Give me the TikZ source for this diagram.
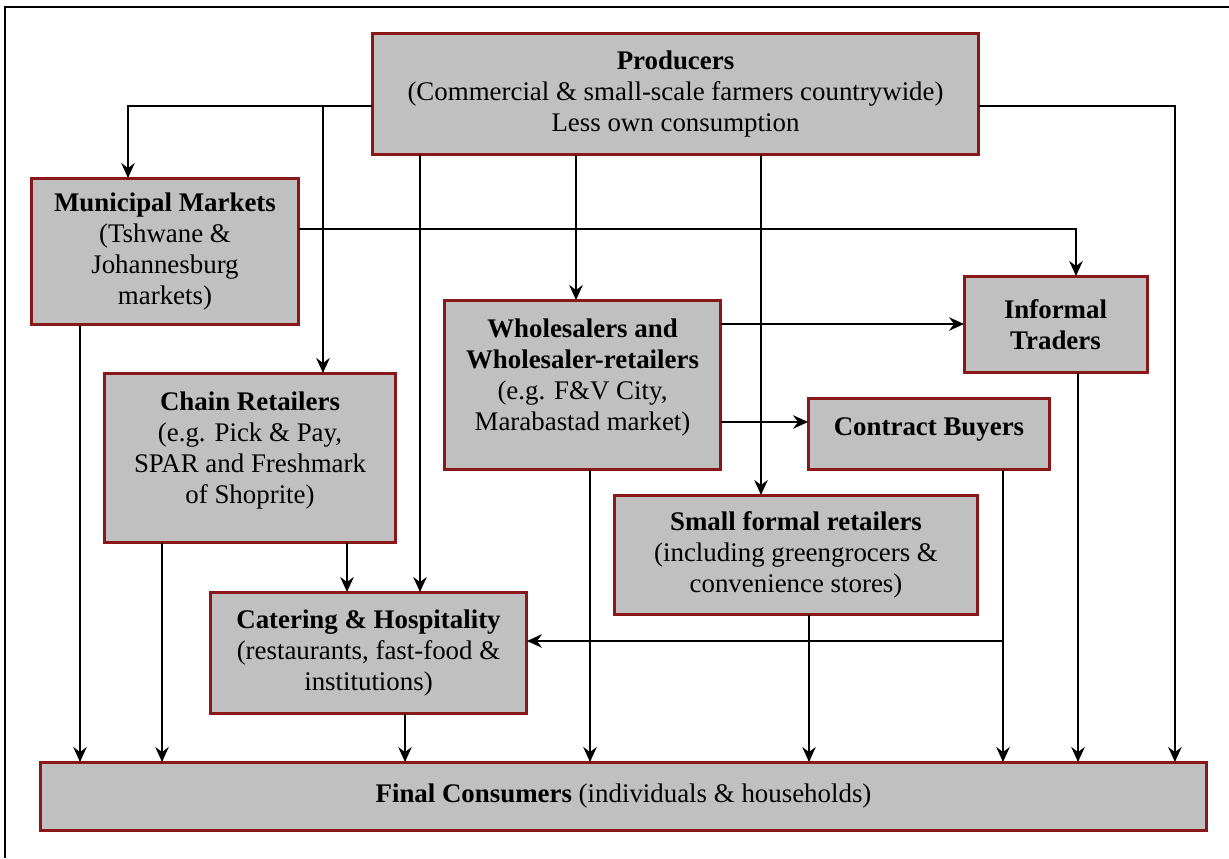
\documentclass[tikz,border=0pt]{standalone}
\usepackage{fontspec}
\setmainfont{Liberation Serif}
\usetikzlibrary{arrows.meta}

\definecolor{boxred}{HTML}{8A1818}
\definecolor{boxgray}{HTML}{C0C0C0}

\tikzset{
  box/.style={draw=boxred, fill=boxgray, line width=0.06cm, align=center,
    inner sep=0pt, outer sep=0pt, font=\fontsize{15.3}{17.6}\selectfont},
  flow/.style={line width=0.045cm, -{Stealth[length=0.3cm,width=0.27cm,inset=0.1cm]}},
}

\begin{document}
\begin{tikzpicture}[x=0.02cm, y=-0.02cm]

  \useasboundingbox (0,0) rectangle (1229,858);
  \draw[line width=0.055cm] (5,858) |- (1229,7);

  % Define nodes

  % top
  \node[box, minimum width=12.14cm, minimum height=2.44cm] (prod) at (675.5,94)
    {\textbf{Producers}\\(Commercial \& small-scale farmers countrywide)\\Less own consumption}; %
  \node[box, minimum width=5.36cm, minimum height=2.94cm] (muni) at (165,251.5)
    {\textbf{Municipal Markets}\\(Tshwane \&\\Johannesburg\\markets)}; %

  % middle row
  \node[box, minimum width=3.66cm, minimum height=1.94cm] (inf) at (1055.5,324.5)
    {\textbf{Informal}\\\textbf{Traders}}; %
  \node[box, minimum width=5.54cm, minimum height=3.40cm] (ws) at (582.5,385)
    {\textbf{Wholesalers and}\\\textbf{Wholesaler-retailers}\\(e.g. F\&V City,\\Marabastad market)\\[-0.2cm]}; %
  \node[box, minimum width=5.84cm, minimum height=3.40cm] (chain) at (250,458)
    {\textbf{Chain Retailers}\\(e.g. Pick \& Pay,\\SPAR and Freshmark\\of Shoprite)\\[-0.2cm]}; %
  \node[box, minimum width=4.84cm, minimum height=1.44cm] (cb) at (929,434)
    {\textbf{Contract Buyers}\\[-0.33cm]}; %

  % lower row
  \node[box, minimum width=7.28cm, minimum height=2.40cm] (sfr) at (796,555)
    {\textbf{Small formal retailers}\\(including greengrocers \&\\convenience stores)}; %
  \node[box, minimum width=6.34cm, minimum height=2.44cm] (cat) at (368.5,653)
    {\textbf{Catering \& Hospitality}\\(restaurants, fast-food \&\\institutions)}; %

  % consumers
  \node[box, minimum width=23.34cm, minimum height=1.36cm] (fin) at (623.5,796)
    {\textbf{Final Consumers} (individuals \& households)}; %

  % Ports
  \coordinate (pl) at ([yshift=-0.24cm]prod.west); %
  \coordinate (pr) at ([yshift=-0.24cm]prod.east); %
  \coordinate (chain-in) at ([xshift=1.46cm]chain.north); %
  \coordinate (cat-in) at ([xshift=1.03cm]cat.north); %
  \coordinate (ws-in) at ([xshift=-0.13cm]ws.north); %
  \coordinate (sfr-in) at ([xshift=-0.70cm]sfr.north); %
  \coordinate (cat-side) at ([yshift=0.24cm]cat.east); %
  \coordinate (muni-out) at ([xshift=-1.70cm]muni.south); %
  \coordinate (chain-out) at ([xshift=-1.76cm]chain.south); %
  \coordinate (chain-cat) at ([xshift=1.94cm]chain.south); %
  \coordinate (cat-out) at ([xshift=0.73cm]cat.south); %
  \coordinate (ws-out) at ([xshift=0.15cm]ws.south); %
  \coordinate (ws-inf) at ([yshift=1.22cm]ws.east); %
  \coordinate (ws-cb) at ([yshift=-0.74cm]ws.east); %
  \coordinate (cb-out) at ([xshift=1.48cm]cb.south); %
  \coordinate (sfr-out) at ([xshift=0.26cm]sfr.south); %
  \coordinate (inf-out) at ([xshift=0.45cm]inf.south); %

  % From producers
  \draw[flow] (pl) -| ([xshift=-0.74cm]muni.north); %
  \draw[flow] (pl -| chain-in) -- (chain-in); %
  \draw[flow] (prod.south -| cat-in) -- (cat-in); %
  \draw[flow] (prod.south -| ws-in) -- (ws-in); %
  \draw[flow] (prod.south -| sfr-in) -- (sfr-in); %
  \draw[flow] (pr) -| ([xshift=11.03cm]fin.north); %

  % Municipal markets
  \draw[flow] ([yshift=0.45cm]muni.east) -| ([xshift=0.41cm]inf.north); %
  \draw[flow] (muni-out) -- (muni-out |- fin.north); %

  % Wholesalers
  \draw[flow] (ws-inf) -- (ws-inf -| inf.west); %
  \draw[flow] (ws-cb) -- (ws-cb -| cb.west); %
  \draw[flow] (ws-out) -- (ws-out |- fin.north); %

  % Retailers and buyers
  \draw[flow] (chain-out) -- (chain-out |- fin.north); %
  \draw[flow] (chain-cat) -- (chain-cat |- cat.north); %
  \draw[flow] (cat-out) -- (cat-out |- fin.north); %
  \draw[flow] (cb-out) -- (cb-out |- fin.north); %
  \draw[flow] (cb-out |- cat-side) -- (cat-side); %
  \draw[flow] (sfr-out) -- (sfr-out |- fin.north); %
  \draw[flow] (inf-out) -- (inf-out |- fin.north); %

\end{tikzpicture}
\end{document}
